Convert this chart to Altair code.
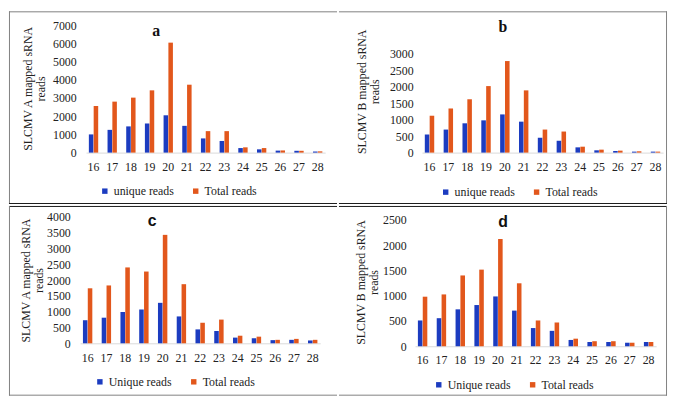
import altair as alt
import pandas as pd

# ---------------- data ----------------
lengths = ["16", "17", "18", "19", "20", "21", "22", "23", "24", "25", "26", "27", "28"]

a_unique = [1000, 1250, 1440, 1600, 2050, 1470, 780, 640, 250, 180, 110, 100, 60]
a_total = [2560, 2800, 3020, 3420, 6040, 3730, 1180, 1180, 290, 250, 120, 100, 70]

b_unique = [550, 700, 890, 980, 1160, 940, 450, 360, 160, 70, 50, 30, 30]
b_total = [1120, 1340, 1620, 2020, 2780, 1890, 700, 640, 180, 90, 60, 40, 30]

c_unique = [730, 810, 990, 1070, 1280, 850, 440, 390, 180, 160, 100, 110, 90]
c_total = [1740, 1830, 2400, 2270, 3430, 1870, 650, 750, 240, 210, 110, 140, 110]

d_unique = [510, 555, 730, 815, 985, 705, 360, 305, 125, 85, 85, 70, 85]
d_total = [980, 1025, 1400, 1515, 2120, 1245, 510, 470, 150, 100, 100, 70, 85]

series_top = ["unique reads", "Total reads"]
series_bottom = ["Unique reads", "Total reads"]

ytitle_a = ["SLCMV A mapped sRNA", "reads"]
ytitle_b = ["SLCMV B mapped sRNA", "reads"]
ytitle_c = ["SLCMV A mapped  sRNA", "reads"]
ytitle_d = ["SLCMV B mapped sRNA", "reads"]

BLUE = "#1c3cc0"
ORANGE = "#e2571c"
SERIF = "Liberation Serif"
SANS = "Liberation Sans"
TXT = "#222222"


def panel(letter, letter_font, unique, total, names, ytitle, ymax, ystep,
          w, h, xrange, yrange, rect, title_xy, ytitle_xy, ylab_pad, xlab_pad,
          legend_xy, edges):
    df = pd.DataFrame({
        "length": lengths * 2,
        "series": [names[0]] * len(lengths) + [names[1]] * len(lengths),
        "reads": unique + total,
    })
    bars = alt.Chart(df).mark_bar().encode(
        x=alt.X("length:N", sort=lengths,
                scale=alt.Scale(range=xrange, paddingInner=0.5, paddingOuter=0.15),
                axis=alt.Axis(title=None, labelAngle=0, ticks=False, tickSize=0,
                              domainColor="#d9d9d9", domainWidth=1,
                              labelFont=SERIF, labelFontSize=12, labelColor=TXT,
                              labelPadding=xlab_pad, grid=False)),
        xOffset=alt.XOffset("series:N", sort=names,
                            scale=alt.Scale(domain=names, paddingInner=0.06)),
        y=alt.Y("reads:Q",
                scale=alt.Scale(domain=[0, ymax], nice=False, range=yrange),
                axis=alt.Axis(values=list(range(0, ymax + 1, ystep)), format="d",
                              title=ytitle, grid=False, domain=False,
                              ticks=False, tickSize=0,
                              labelFont=SERIF, labelFontSize=12, labelColor=TXT,
                              labelPadding=ylab_pad,
                              titleFont=SERIF, titleFontSize=12,
                              titleFontWeight="normal", titleColor=TXT,
                              titleAngle=270, titleAlign="center",
                              titleBaseline="bottom", titleLineHeight=13,
                              titleX=ytitle_xy[0], titleY=ytitle_xy[1])),
        color=alt.Color("series:N",
                        scale=alt.Scale(domain=names, range=[BLUE, ORANGE]),
                        legend=alt.Legend(title=None, orient="none",
                                          legendX=legend_xy[0], legendY=legend_xy[1],
                                          direction="horizontal",
                                          symbolType="square", symbolSize=30,
                                          symbolStrokeWidth=0,
                                          labelFont=SERIF, labelFontSize=12,
                                          labelColor=TXT, labelOffset=3,
                                          columnPadding=16, padding=0)),
    )

    one = alt.Data(values=[{"k": 0}])
    x0, y0, x1, y1 = rect
    box = alt.Chart(one).mark_rect(opacity=0).encode(
        x=alt.value(x0), x2=alt.value(x1), y=alt.value(y0), y2=alt.value(y1))

    layers = [box, bars]
    for side, color in edges:
        if side == "top":
            enc = dict(x=alt.value(x0), x2=alt.value(x1), y=alt.value(y0 + 0.5))
        elif side == "bottom":
            enc = dict(x=alt.value(x0), x2=alt.value(x1), y=alt.value(y1 - 0.5))
        elif side == "left":
            enc = dict(x=alt.value(x0 + 0.5), y=alt.value(y0), y2=alt.value(y1))
        else:
            enc = dict(x=alt.value(x1 - 0.5), y=alt.value(y0), y2=alt.value(y1))
        layers.append(alt.Chart(one).mark_rule(color=color, strokeWidth=1).encode(**enc))

    title = alt.Chart(one).mark_text(font=letter_font, fontSize=16, fontWeight="bold",
                                      color="#111111", align="center",
                                      baseline="middle").encode(
        x=alt.value(title_xy[0]), y=alt.value(title_xy[1]), text=alt.value(letter))
    layers.append(title)
    return alt.layer(*layers).properties(width=w, height=h)


EDGE = "#808080"
DIV = "#1a1a1a"

# column origins x: 80 / 417 ; row origins y: 25 / 217 (page pixels of the reference)
RECT_A = (-72, -14, 260, 181)
RECT_B = (-77, -14, 255, 181)
RECT_C = (-72, -11, 260, 181)
RECT_D = (-77, -11, 255, 181)

pa = panel("a", SERIF, a_unique, a_total, series_top, ytitle_a, 7000, 1000,
           248, 129, [6, 248], [129, 0], RECT_A, (77, 6), (-46.5, 64), 4, 9, (19, 162),
           [("top", EDGE), ("left", EDGE), ("bottom", DIV)])
pb = panel("b", SERIF, b_unique, b_total, series_top, ytitle_b, 3000, 500,
           251, 129, [7, 251], [129, 29], RECT_B, (89, 2), (-47.5, 67), 2, 9, (25, 163),
           [("top", EDGE), ("right", EDGE), ("bottom", DIV)])
pc = panel("c", SANS, c_unique, c_total, series_bottom, ytitle_c, 4000, 500,
           243, 128, [0, 243], [128, 0], RECT_C, (73, 4), (-48.5, 64), 10, 9, (14, 161),
           [("top", DIV), ("left", EDGE), ("bottom", EDGE)])
pd_ = panel("d", SANS, d_unique, d_total, series_bottom, ytitle_d, 2500, 500,
            244, 131, [0, 244], [131, 3], RECT_D, (89, 5), (-48.5, 66), 9, 8, (18, 164),
            [("top", DIV), ("right", EDGE), ("bottom", EDGE)])

chart = alt.concat(pa, pb, pc, pd_, columns=2, spacing=0, align="each",
                   bounds="full", padding=0).resolve_scale(
    x="independent", y="independent", color="independent", xOffset="independent"
).resolve_legend(color="independent").configure_view(stroke="transparent")

chart.save("out.html", embed_options={"renderer": "svg", "actions": False})
